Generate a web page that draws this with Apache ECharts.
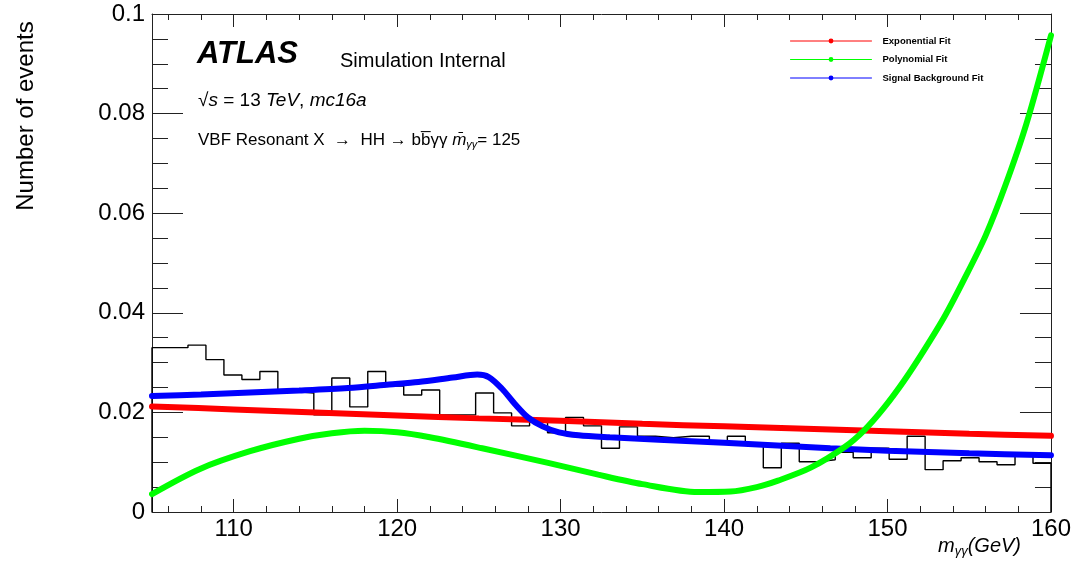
<!DOCTYPE html>
<html>
<head>
<meta charset="utf-8">
<script src="https://cdn.jsdelivr.net/npm/echarts@6/dist/echarts.min.js"></script>
<style>
html,body{margin:0;padding:0;background:#fff;}
#chart{width:1074px;height:563px;}
</style>
</head>
<body>
<div id="chart"></div>
<script>
// ---- data ----
const binEdges = [105, 106.1, 107.2, 108.3, 109.4, 110.5, 111.6, 112.7, 113.8, 114.9,
  116, 117.1, 118.2, 119.3, 120.4, 121.5, 122.6, 123.7, 124.8, 125.9,
  127, 128.1, 129.2, 130.3, 131.4, 132.5, 133.6, 134.7, 135.8, 136.9,
  138, 139.1, 140.2, 141.3, 142.4, 143.5, 144.6, 145.7, 146.8, 147.9,
  149, 150.1, 151.2, 152.3, 153.4, 154.5, 155.6, 156.7, 157.8, 158.9];
const histValues = [0.0330, 0.0330, 0.0335, 0.0306, 0.0275, 0.0266, 0.0282, 0.0242, 0.0239, 0.0195,
  0.0269, 0.0211, 0.0282, 0.0253, 0.0235, 0.0245, 0.0195, 0.0195, 0.0239, 0.0199,
  0.0173, 0.0180, 0.0159, 0.0190, 0.0173, 0.0128, 0.0171, 0.0152, 0.0149, 0.0152,
  0.0152, 0.0138, 0.0152, 0.0138, 0.0089, 0.0138, 0.0101, 0.0105, 0.0120, 0.0109,
  0.0128, 0.0106, 0.0152, 0.0085, 0.0103, 0.0109, 0.0101, 0.0095, 0.0117, 0.0098];
const histEnd = 160;

const expFitX = [105, 110, 115, 120, 125, 130, 135, 140, 145, 150, 155, 160];
const expFitY = [0.0212, 0.0206, 0.0200, 0.0194, 0.0188, 0.0183, 0.0177, 0.0172, 0.0167, 0.0162, 0.0157, 0.0153];

const polyFitX = [105, 107.9, 111, 114, 116, 118, 120, 122, 125.2, 129.3, 132.3, 135, 138.4, 140.4, 142, 143.3, 145.3, 147.4, 148.6, 149.8, 151.0, 152.2, 153.5, 154.7, 156.0, 157.2, 158.5, 160];
const polyFitY = [0.0036, 0.0086, 0.0122, 0.0147, 0.0158, 0.0163, 0.0160, 0.0150, 0.0128, 0.0098, 0.0075, 0.0056, 0.0040, 0.0041, 0.0050, 0.0063, 0.0089, 0.0131, 0.0165, 0.0210, 0.0263, 0.0323, 0.0393, 0.0468, 0.0555, 0.0655, 0.0780, 0.0957];

const sbFitX = [105, 108, 111, 114, 117, 119.5, 121.3, 123.4, 124.9, 125.6, 126.4, 127.2, 128.0, 128.9, 129.9, 131.1, 133, 136, 140, 146.5, 150, 155, 160];
const sbFitY = [0.0233, 0.0236, 0.0240, 0.0244, 0.0249, 0.0256, 0.0261, 0.0270, 0.0276, 0.0271, 0.0248, 0.0217, 0.0190, 0.0172, 0.0160, 0.0154, 0.0150, 0.0145, 0.0139, 0.0128, 0.0123, 0.0118, 0.0114];

const xMajorTicks = [110, 120, 130, 140, 150, 160];
const xMinorTicks = [106, 108, 112, 114, 116, 118, 122, 124, 126, 128, 132, 134, 136, 138, 142, 144, 146, 148, 152, 154, 156, 158];
const seriesNames = ['Exponential Fit', 'Polynomial Fit', 'Signal Background Fit'];

// ---- build ----
const FONT = '"Liberation Sans", Arial, Helvetica, sans-serif';
const histData = [[binEdges[0], 0]];
binEdges.forEach((e, i) => histData.push([e, histValues[i]]));
histData.push([histEnd, histValues[histValues.length - 1]]);
histData.push([histEnd, 0]);
const zip = (xs, ys) => xs.map((x, i) => [x, ys[i]]);

const axisColor = '#222';
function xAxisDef(position, major, showLine) {
  return {
    type: 'value', min: 105, max: 160, position: position,
    axisLine: { show: showLine, onZero: false, lineStyle: { color: axisColor, width: 1 } },
    axisTick: { show: true, inside: true, length: major ? 13 : 6, customValues: major ? xMajorTicks : xMinorTicks,
      lineStyle: { color: axisColor, width: 1 } },
    axisLabel: (major && position === 'bottom') ? { show: true, customValues: xMajorTicks, fontSize: 24, color: '#000',
      fontFamily: FONT, margin: 5 } : { show: false },
    splitLine: { show: false }
  };
}
function yAxisDef(position) {
  return {
    type: 'value', min: 0, max: 0.1, interval: 0.02, position: position,
    axisLine: { show: true, onZero: false, lineStyle: { color: axisColor, width: 1 } },
    axisTick: { show: true, inside: true, length: 31, lineStyle: { color: axisColor, width: 1 } },
    minorTick: { show: true, splitNumber: 4, length: 16, lineStyle: { color: axisColor, width: 1 } },
    axisLabel: position === 'left' ? { show: true, fontSize: 24, color: '#000', fontFamily: FONT, margin: 7,
      formatter: v => String(+v.toFixed(3)) } : { show: false },
    splitLine: { show: false }
  };
}

const chart = echarts.init(document.getElementById('chart'), null, { renderer: 'canvas' });
chart.setOption({
  animation: false,
  backgroundColor: '#fff',
  grid: { left: 152, right: 20, top: 14, bottom: 51, containLabel: false },
  xAxis: [xAxisDef('bottom', true, true), xAxisDef('bottom', false, false), xAxisDef('top', true, true), xAxisDef('top', false, false)],
  yAxis: [yAxisDef('left'), yAxisDef('right')],
  legend: {
    data: seriesNames, orient: 'vertical', left: 785, top: 31,
    itemWidth: 81, itemHeight: 6, itemGap: 8.5,
    textStyle: { fontFamily: FONT, fontWeight: 'bold', fontSize: 9.5, color: '#000', padding: [0, 0, 0, 6] },
    lineStyle: { width: 1 }, itemStyle: { borderWidth: 0 }
  },
  series: [
    { name: 'hist', type: 'line', step: 'end', data: histData, showSymbol: false, symbol: 'none',
      lineStyle: { color: '#000', width: 1.4 }, silent: true },
    { name: seriesNames[0], type: 'line', data: zip(expFitX, expFitY), smooth: 0.3,
      symbol: 'circle', showSymbol: false, color: '#ff0000', lineStyle: { color: '#ff0000', width: 6, cap: 'round' } },
    { name: seriesNames[2], type: 'line', data: zip(sbFitX, sbFitY), smooth: 0.3,
      symbol: 'circle', showSymbol: false, color: '#0000ff', lineStyle: { color: '#0000ff', width: 6, cap: 'round' } },
    { name: seriesNames[1], type: 'line', data: zip(polyFitX, polyFitY), smooth: 0.3,
      symbol: 'circle', showSymbol: false, color: '#00ff00', lineStyle: { color: '#00ff00', width: 6, cap: 'round' } }
  ],
  graphic: [
    { type: 'text', x: 26, y: 116, rotation: Math.PI / 2,
      style: { text: 'Number of events', font: '24px ' + FONT, fill: '#000', align: 'center', verticalAlign: 'middle' } },
    { type: 'text', x: 197, y: 54,
      style: { text: 'ATLAS', font: 'italic bold 31px ' + FONT, fill: '#000', verticalAlign: 'middle' } },
    { type: 'text', x: 340, y: 61,
      style: { text: 'Simulation Internal', font: '20px ' + FONT, fill: '#000', verticalAlign: 'middle' } },
    { type: 'text', x: 198, y: 101,
      style: { text: '{n|√}{i|s}{n| = 13 }{i|TeV}{n|, }{i|mc16a}', fill: '#000', verticalAlign: 'middle',
        rich: { n: { fontFamily: FONT, fontSize: 19, fill: '#000' }, i: { fontFamily: FONT, fontSize: 19, fontStyle: 'italic', fill: '#000' } } } },
    { type: 'text', x: 198, y: 141,
      style: { text: '{n|VBF Resonant X  →  HH → bb\u0305γγ }{i|m\u0304}{s|γγ}{n|= 125}', fill: '#000', verticalAlign: 'middle',
        rich: { n: { fontFamily: FONT, fontSize: 17, lineHeight: 18, verticalAlign: 'top', fill: '#000' },
                i: { fontFamily: FONT, fontSize: 17, fontStyle: 'italic', lineHeight: 18, verticalAlign: 'top', fill: '#000' },
                s: { fontFamily: FONT, fontSize: 11, fontStyle: 'italic', lineHeight: 11, verticalAlign: 'bottom', fill: '#000' } } } },
    { type: 'text', x: 938, y: 547,
      style: { text: '{i|m}{s|γγ}{i|(GeV)}', fill: '#000', verticalAlign: 'middle',
        rich: { i: { fontFamily: FONT, fontSize: 20, fontStyle: 'italic', lineHeight: 21, verticalAlign: 'top', fill: '#000' },
                s: { fontFamily: FONT, fontSize: 13, fontStyle: 'italic', lineHeight: 13, verticalAlign: 'bottom', fill: '#000' } } } }
  ]
});
</script>
</body>
</html>
